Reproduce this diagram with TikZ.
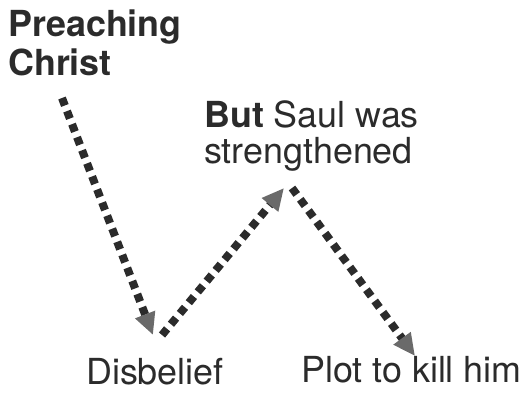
\documentclass[tikz,border=0pt]{standalone}
\usepackage{fontspec}
\setmainfont{TeX Gyre Heros}
\usetikzlibrary{arrows.meta}
\definecolor{ink}{HTML}{2B2B2B}
\definecolor{tipgray}{HTML}{6A6A6A}
\newcommand{\lblfont}{\fontsize{36}{39}\selectfont}

\begin{document}
\begin{tikzpicture}[x=1bp,y=-1bp,
  lbl/.style={anchor=north west, inner sep=0, align=left, text=ink, font=\lblfont},
  dotarrow/.style={ink, line width=8bp, dash pattern=on 8bp off 6bp,
    -{Triangle[length=22bp,width=20bp,color=tipgray]}}]
\useasboundingbox (0,0) rectangle (527,392);
% labels
\node[lbl, font=\lblfont\bfseries] (preach) at (8,10) {Preaching\\Christ};
\node[lbl, font=\fontsize{36}{36}\selectfont] (saul) at (204,101) {\textbf{But} Saul was\\strengthened};
\node[lbl] (disbelief) at (86,358) {Disbelief};
\node[lbl] (plot) at (301,356) {Plot to kill him};
% turning points
\coordinate (s1) at (62,98);
\coordinate (t1) at (153,335);
\coordinate (s2) at (162,335);
\coordinate (t2) at (284,188);
\coordinate (s3) at (292,188);
\coordinate (t3) at (415,356);
\draw[dotarrow] (s1) -- (t1);
\draw[dotarrow] (s2) -- (t2);
\draw[dotarrow] (s3) -- (t3);
\end{tikzpicture}
\end{document}
